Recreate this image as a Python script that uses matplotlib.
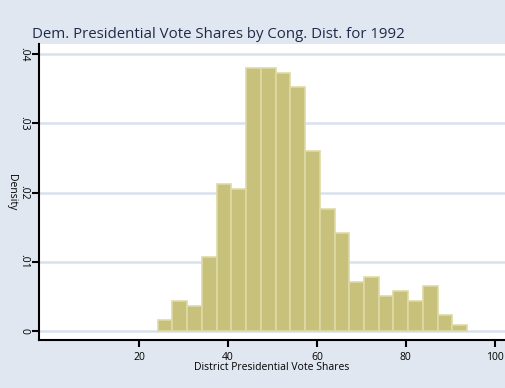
import numpy as np
import matplotlib
matplotlib.use("Agg")
import matplotlib.pyplot as plt

# histogram of district-level Democratic presidential vote share, 1992
bin_start = 24.2
bin_width = 3.313
density = [0.00155, 0.00438, 0.00366, 0.01065, 0.0212, 0.0205, 0.03796,
           0.03796, 0.0373, 0.0352, 0.02606, 0.01763, 0.01416, 0.00713,
           0.00785, 0.00506, 0.00573, 0.00434, 0.00646, 0.00227, 0.00087]

x_ticks = [20, 40, 60, 80, 100]
y_ticks = [0, 0.01, 0.02, 0.03, 0.04]
y_tick_labels = ["0", ".01", ".02", ".03", ".04"]

bg = "#E0E7F0"
grid_col = "#D9E1EE"
bar_fill = "#C8C17B"
bar_edge = "#DEDAA6"
text_col = "#1E2A4A"

plt.rcParams["font.family"] = ["Open Sans", "DejaVu Sans"]

fig = plt.figure(figsize=(5.05, 3.88), dpi=100, facecolor=bg)
ax = fig.add_axes([39 / 505, 48 / 388, 466 / 505, 296 / 388])
ax.set_facecolor("white")

lefts = bin_start + bin_width * np.arange(len(density))
ax.bar(lefts, density, width=bin_width, align="edge",
       color=bar_fill, edgecolor=bar_edge, linewidth=1.2, zorder=3)

ax.set_xlim(-2.5, 102.3)
ax.set_ylim(-0.0013, 0.04147)

ax.set_xticks(x_ticks)
ax.set_yticks(y_ticks)
ax.set_yticklabels(y_tick_labels, rotation=-90, va="center", ha="right")
ax.tick_params(axis="both", length=5, width=1.5, labelsize=7.5,
               colors="black", labelcolor="black")
ax.tick_params(axis="x", pad=4)
ax.tick_params(axis="y", pad=2)

ax.grid(axis="y", color=grid_col, linewidth=1.8, zorder=1)
ax.set_axisbelow(True)

for s in ["top", "right"]:
    ax.spines[s].set_visible(False)
for s in ["left", "bottom"]:
    ax.spines[s].set_linewidth(1.5)
    ax.spines[s].set_color("black")

ax.set_xlabel("District Presidential Vote Shares", fontsize=7.5, labelpad=-1)
ax.set_ylabel("Density", fontsize=7.5, rotation=-90, labelpad=5, va="center")

fig.text(32 / 505, 1 - 35 / 388, "Dem. Presidential Vote Shares by Cong. Dist. for 1992",
         fontsize=10.8, color=text_col, ha="left", va="center")

fig.savefig("out.png", dpi=100, facecolor=bg)
